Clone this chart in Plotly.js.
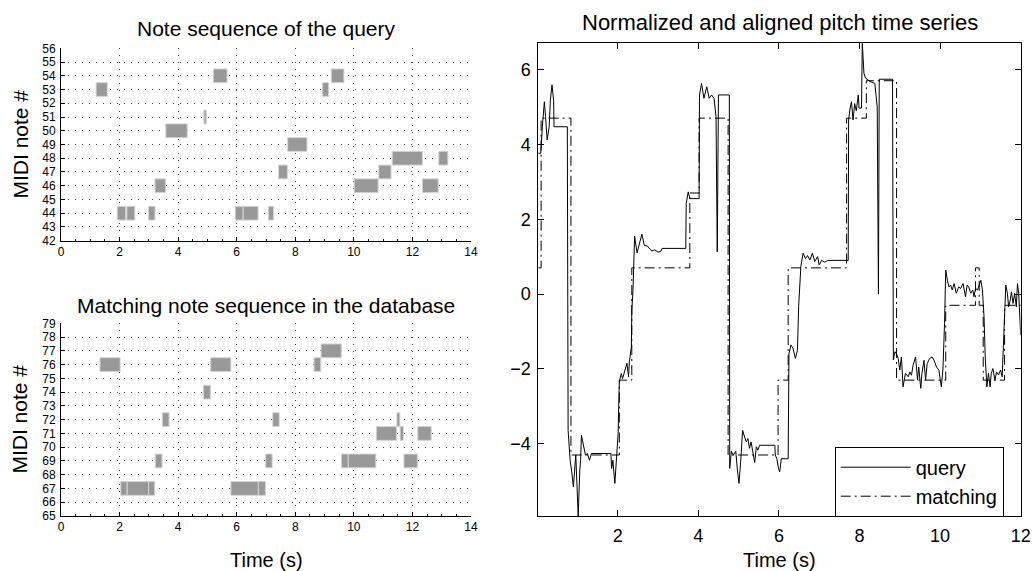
<!DOCTYPE html>
<html>
<head>
<meta charset="utf-8">
<script src="https://cdn.plot.ly/plotly-3.0.1.min.js"></script>
<style>
  html, body { margin: 0; padding: 0; background: #fff; }
  #chart { width: 1033px; height: 571px; }
</style>
</head>
<body>
<div id="chart"></div>
<script>
// ---------- Data: note sequence of the query ----------
const queryNotes = [53, 44, 44, 44, 46, 50, 51, 54, 44, 44, 44, 47, 49, 53, 54, 46, 47, 48, 46, 48];
const queryStart = [1.20, 1.92, 2.25, 2.99, 3.21, 3.58, 4.88, 5.20, 5.95, 6.22, 7.08, 7.43, 7.74, 8.93, 9.23, 10.01, 10.85, 11.31, 12.34, 12.90];
const queryEnd   = [1.58, 2.21, 2.52, 3.21, 3.57, 4.31, 4.96, 5.67, 6.22, 6.73, 7.26, 7.73, 8.40, 9.14, 9.66, 10.83, 11.27, 12.34, 12.88, 13.21];

// ---------- Data: matching note sequence in the database ----------
const matchNotes = [76, 67, 67, 67, 69, 72, 74, 76, 67, 67, 69, 72, 76, 77, 69, 69, 71, 72, 71, 69, 71];
const matchStart = [1.33, 2.04, 2.26, 2.99, 3.22, 3.46, 4.86, 5.11, 5.80, 6.74, 6.99, 7.23, 8.64, 8.88, 9.58, 9.81, 10.77, 11.47, 11.58, 11.71, 12.18];
const matchEnd   = [2.02, 2.26, 2.99, 3.20, 3.45, 3.69, 5.10, 5.80, 6.74, 6.98, 7.21, 7.45, 8.87, 9.57, 9.81, 10.75, 11.46, 11.57, 11.69, 12.17, 12.64];

// ---------- Data: normalized pitch time series (query) ----------
const seriesTime = [0.03,0.09,0.13,0.18,0.21,0.25,0.30,0.33,0.37,0.41,0.42,0.75,0.77,0.82,0.86,0.90,0.96,1.02,1.06,1.08,1.10,1.15,1.20,1.25,1.30,1.35,1.83,1.85,1.88,1.93,1.97,2.01,2.04,2.09,2.12,2.17,2.23,2.27,2.29,2.34,2.35,2.38,2.42,2.48,2.60,2.66,2.74,2.80,2.85,2.92,3.00,3.07,3.10,3.69,3.70,3.75,3.79,4.02,4.03,4.08,4.14,4.21,4.27,4.33,4.39,4.44,4.47,4.50,4.77,4.78,4.82,4.87,4.93,4.97,5.01,5.05,5.10,5.15,5.19,5.23,5.27,5.31,5.36,5.40,5.44,5.48,5.52,5.90,5.91,5.95,5.99,6.02,6.06,6.23,6.25,6.30,6.35,6.41,6.46,6.49,6.545,6.60,6.66,6.71,6.77,6.83,6.89,6.96,7.00,7.06,7.14,7.21,7.72,7.73,7.76,7.80,7.84,7.88,7.92,7.97,7.99,8.05,8.07,8.11,8.15,8.26,8.38,8.44,8.47,8.49,8.82,8.84,8.88,8.92,8.96,9.00,9.04,9.08,9.14,9.21,9.25,9.29,9.33,9.39,9.44,9.47,9.52,9.55,9.60,9.64,9.68,9.74,9.80,9.85,9.91,9.97,10.03,10.07,10.11,10.14,10.18,10.22,10.26,10.30,10.35,10.40,10.46,10.51,10.57,10.63,10.67,10.71,10.76,10.81,10.84,10.88,10.93,10.96,11.01,11.05,11.09,11.12,11.16,11.20,11.24,11.27,11.31,11.36,11.40,11.45,11.50,11.54,11.57,11.60,11.63,11.67,11.70,11.74,11.77,11.81,11.85,11.89,11.92,11.95,11.98,12.00];
const seriesQuery = [3.76,3.76,4.47,5.14,4.74,4.12,4.47,5.18,5.59,5.18,4.47,4.47,-3.64,-4.44,-4.75,-5.15,-4.30,-5.93,-4.70,-4.44,-3.77,-4.04,-4.30,-4.26,-4.44,-4.26,-4.26,-4.66,-4.44,-5.06,-4.35,-3.73,-2.34,-2.12,-2.26,-2.08,-1.85,-2.21,-1.81,-1.41,-0.43,0.10,1.55,1.10,1.60,1.30,1.28,1.20,1.15,1.18,1.12,1.14,1.22,1.22,2.42,2.73,2.55,2.55,5.32,5.63,5.23,5.54,5.23,5.32,5.23,4.74,1.13,5.32,5.32,-4.66,-4.20,-4.30,-4.20,-4.70,-5.06,-4.50,-3.64,-3.82,-3.95,-3.86,-4.12,-3.95,-4.30,-4.50,-4.08,-4.17,-4.04,-4.04,-4.30,-4.40,-4.66,-4.75,-4.40,-4.40,-1.59,-1.36,-1.45,-1.72,-1.50,-0.34,0.74,1.09,0.95,1.03,0.91,1.09,0.87,1.00,0.78,0.90,0.85,0.90,0.90,4.65,4.92,5.14,4.65,5.09,4.90,5.32,4.97,4.97,6.70,5.90,5.77,5.68,5.63,5.00,0.00,5.74,5.74,-1.76,-1.54,-1.60,-1.72,-2.03,-1.68,-2.48,-2.12,-2.21,-2.08,-2.17,-1.90,-1.68,-2.30,-1.95,-2.52,-2.12,-1.77,-2.30,-1.86,-1.72,-1.68,-1.77,-1.95,-2.03,-2.48,-2.03,-0.79,0.64,0.37,0.19,0.24,0.11,0.28,0.02,0.19,0.15,0.28,-0.07,0.24,0.19,0.02,0.11,-0.07,0.15,0.11,0.19,0.37,0.11,-0.60,-1.68,-2.48,-2.12,-2.48,-2.12,-1.99,-2.30,-2.08,-2.16,-2.03,-2.21,-1.23,-0.16,0.24,0.02,-0.34,-0.16,0.06,-0.25,0.02,-0.34,0.28,0.02,-0.60,-1.10];

// ---------- Data: aligned matching step levels ----------
const matchTime  = [0.03, 0.10, 0.84, 2.04, 2.35, 3.79, 4.02, 4.74, 5.98, 6.23, 7.68, 8.17, 8.92, 10.14, 10.88, 10.97, 11.07, 11.60, 12.00];
const matchLevel = [0.7, 4.7, -4.3, -2.3, 0.7, 2.7, 4.7, -4.3, -2.3, 0.7, 4.7, 5.7, -2.3, -0.3, 0.7, -0.3, -2.3, -0.3, -0.3];

// ---------- Tick labels ----------
const queryTicks = [42,43,44,45,46,47,48,49,50,51,52,53,54,55,56];
const matchTicks = [65,66,67,68,69,70,71,72,73,74,75,76,77,78,79];
const noteTimeTicks = [0,2,4,6,8,10,12,14];
const seriesTimeTicks = [2,4,6,8,10,12];
const seriesValueTicks = [-4,-2,0,2,4,6];

// ---------- Layout helpers ----------
const W = 1033, H = 571;
const px = v => v / W;
const py = v => 1 - v / H;
const FONT = '"Liberation Sans", Arial, Helvetica, sans-serif';
const GRID_DASH = '1px,6px';

const dur = (s, e) => s.map((v, i) => +(e[i] - v).toFixed(3));

const noteBar = (notes, start, end, xa, ya) => ({
  type: 'bar', orientation: 'h',
  y: notes, x: dur(start, end), base: start, width: 1,
  xaxis: xa, yaxis: ya,
  marker: { color: '#999999', line: { color: '#d4d4d4', width: 1 } },
  showlegend: false, hoverinfo: 'skip'
});

const traces = [
  noteBar(queryNotes, queryStart, queryEnd, 'x', 'y'),
  noteBar(matchNotes, matchStart, matchEnd, 'x2', 'y2'),
  {
    type: 'scatter', mode: 'lines', name: 'query',
    x: seriesTime, y: seriesQuery, xaxis: 'x3', yaxis: 'y3',
    line: { color: '#000', width: 1 }
  },
  {
    type: 'scatter', mode: 'lines', name: 'matching',
    x: matchTime, y: matchLevel, xaxis: 'x3', yaxis: 'y3',
    line: { color: '#000', width: 1, dash: '10px,4px,2px,4px', shape: 'hv' }
  }
];

const noteX = (domain, anchor) => ({
  domain, anchor, range: [0, 14],
  tickvals: noteTimeTicks, ticktext: noteTimeTicks.map(String),
  ticks: 'inside', ticklen: 4, tickcolor: '#000', tickwidth: 1,
  showline: true, linecolor: '#000', linewidth: 1, mirror: false,
  showgrid: true, gridcolor: '#444', griddash: GRID_DASH, gridwidth: 1,
  zeroline: false,
  minor: { dtick: 0.5, tick0: 0, ticks: 'inside', ticklen: 2, tickcolor: '#000', showgrid: false },
  tickfont: { family: FONT, size: 12, color: '#000' },
  ticklabelstandoff: 0, fixedrange: true
});
const noteY = (domain, anchor, ticks) => ({
  domain, anchor, range: [ticks[0], ticks[ticks.length - 1]],
  tickvals: ticks, ticktext: ticks.map(String),
  ticks: 'inside', ticklen: 4, tickcolor: '#000', tickwidth: 1,
  showline: true, linecolor: '#000', linewidth: 1, mirror: false,
  showgrid: true, gridcolor: '#444', griddash: GRID_DASH, gridwidth: 1,
  zeroline: false,
  tickfont: { family: FONT, size: 12, color: '#000' },
  ticklabelstandoff: 2, fixedrange: true
});

const layout = {
  width: W, height: H,
  margin: { l: 0, r: 0, t: 0, b: 0, pad: 0 },
  paper_bgcolor: '#fff', plot_bgcolor: 'rgba(0,0,0,0)',
  font: { family: FONT, color: '#000' },
  barmode: 'overlay',
  showlegend: true,
  hovermode: false,
  xaxis: noteX([px(61), px(471)], 'y'),
  yaxis: noteY([py(240.7), py(48.3)], 'x', queryTicks),
  xaxis2: noteX([px(61), px(471)], 'y2'),
  yaxis2: noteY([py(516), py(323.3)], 'x2', matchTicks),
  xaxis3: {
    domain: [px(538.3), px(1020.7)], anchor: 'y3', range: [0.03, 12.0],
    tickvals: seriesTimeTicks, ticktext: seriesTimeTicks.map(String),
    ticks: 'inside', ticklen: 6, tickcolor: '#000',
    showline: true, linecolor: '#000', linewidth: 1, mirror: 'ticks',
    showgrid: false, zeroline: false,
    tickfont: { family: FONT, size: 18, color: '#000' },
    ticklabelstandoff: 3, fixedrange: true
  },
  yaxis3: {
    domain: [py(516), py(43.3)], anchor: 'x3', range: [-5.93, 6.70],
    tickvals: seriesValueTicks, ticktext: seriesValueTicks.map(v => v < 0 ? '\u2212' + Math.abs(v) : String(v)),
    ticks: 'inside', ticklen: 6, tickcolor: '#000',
    showline: true, linecolor: '#000', linewidth: 1, mirror: 'ticks',
    showgrid: false, zeroline: false,
    tickfont: { family: FONT, size: 18, color: '#000' },
    ticklabelstandoff: 3, fixedrange: true
  },
  legend: {
    x: px(834.7), y: py(446.7), xanchor: 'left', yanchor: 'top',
    xref: 'paper', yref: 'paper',
    bgcolor: '#fff', bordercolor: '#000', borderwidth: 1,
    font: { family: FONT, size: 20, color: '#000' },
    itemwidth: 70, tracegroupgap: 0
  },
  annotations: [
    { text: 'Note sequence of the query', x: px(266), y: py(29), xref: 'paper', yref: 'paper',
      xanchor: 'center', yanchor: 'middle', showarrow: false, font: { family: FONT, size: 21 } },
    { text: 'Matching note sequence in the database', x: px(266), y: py(305), xref: 'paper', yref: 'paper',
      xanchor: 'center', yanchor: 'middle', showarrow: false, font: { family: FONT, size: 21 } },
    { text: 'Normalized and aligned pitch time series', x: px(779.5), y: py(23), xref: 'paper', yref: 'paper',
      xanchor: 'center', yanchor: 'middle', showarrow: false, font: { family: FONT, size: 22 } },
    { text: 'MIDI note #', x: px(20), y: py(144.5), xref: 'paper', yref: 'paper', textangle: -90,
      xanchor: 'center', yanchor: 'middle', showarrow: false, font: { family: FONT, size: 21 } },
    { text: 'MIDI note #', x: px(20), y: py(419.6), xref: 'paper', yref: 'paper', textangle: -90,
      xanchor: 'center', yanchor: 'middle', showarrow: false, font: { family: FONT, size: 21 } },
    { text: 'Time (s)', x: px(266), y: py(560), xref: 'paper', yref: 'paper',
      xanchor: 'center', yanchor: 'middle', showarrow: false, font: { family: FONT, size: 20 } },
    { text: 'Time (s)', x: px(779.5), y: py(560), xref: 'paper', yref: 'paper',
      xanchor: 'center', yanchor: 'middle', showarrow: false, font: { family: FONT, size: 20 } }
  ]
};

Plotly.newPlot('chart', traces, layout, { staticPlot: true, displayModeBar: false });
</script>
</body>
</html>
